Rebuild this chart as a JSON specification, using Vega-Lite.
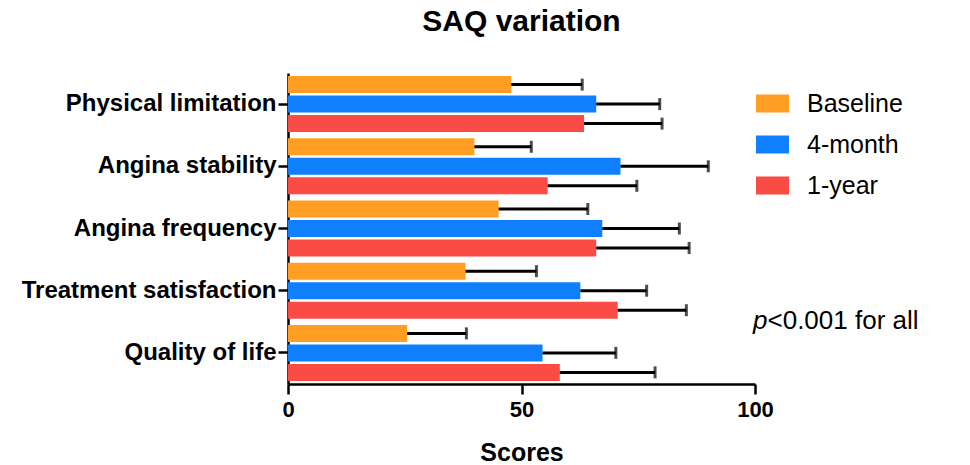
{
  "$schema": "https://vega.github.io/schema/vega-lite/v6.json",
  "autosize": {"type": "none"},
  "width": 467,
  "height": 311,
  "padding": {"left": 288, "top": 73, "right": 215, "bottom": 81},
  "background": "white",
  "config": {
    "font": "Liberation Sans",
    "view": {"stroke": null},
    "axis": {
      "domainColor": "black",
      "domainWidth": 2.5,
      "tickColor": "black",
      "tickWidth": 2.5,
      "tickSize": 10,
      "labelColor": "black",
      "labelFontWeight": "bold",
      "titleColor": "black",
      "grid": false
    }
  },
  "title": {
    "text": "SAQ variation",
    "fontSize": 30,
    "fontWeight": "bold",
    "color": "black",
    "anchor": "middle",
    "frame": "group",
    "offset": 36
  },
  "data": {
    "values": [
      {"measure": "Physical limitation", "time": "Baseline", "mean": 47.8, "upper": 63.0},
      {"measure": "Physical limitation", "time": "4-month", "mean": 66.0, "upper": 79.6},
      {"measure": "Physical limitation", "time": "1-year", "mean": 63.4, "upper": 80.1},
      {"measure": "Angina stability", "time": "Baseline", "mean": 39.9, "upper": 52.1},
      {"measure": "Angina stability", "time": "4-month", "mean": 71.2, "upper": 90.0},
      {"measure": "Angina stability", "time": "1-year", "mean": 55.6, "upper": 74.7},
      {"measure": "Angina frequency", "time": "Baseline", "mean": 45.1, "upper": 64.2},
      {"measure": "Angina frequency", "time": "4-month", "mean": 67.3, "upper": 83.8},
      {"measure": "Angina frequency", "time": "1-year", "mean": 66.0, "upper": 85.9},
      {"measure": "Treatment satisfaction", "time": "Baseline", "mean": 38.0, "upper": 53.2},
      {"measure": "Treatment satisfaction", "time": "4-month", "mean": 62.6, "upper": 76.8},
      {"measure": "Treatment satisfaction", "time": "1-year", "mean": 70.6, "upper": 85.3},
      {"measure": "Quality of life", "time": "Baseline", "mean": 25.5, "upper": 38.2},
      {"measure": "Quality of life", "time": "4-month", "mean": 54.5, "upper": 70.2},
      {"measure": "Quality of life", "time": "1-year", "mean": 58.2, "upper": 78.6}
    ]
  },
  "encoding": {
    "y": {
      "field": "measure",
      "type": "nominal",
      "sort": ["Physical limitation", "Angina stability", "Angina frequency", "Treatment satisfaction", "Quality of life"],
      "scale": {"paddingInner": 0.1, "paddingOuter": 0.05},
      "axis": {"title": null, "labelFontSize": 24, "labelPadding": 2, "labelLimit": 400}
    },
    "yOffset": {
      "field": "time",
      "type": "nominal",
      "sort": ["Baseline", "4-month", "1-year"],
      "scale": {"paddingInner": 0.13}
    }
  },
  "layer": [
    {
      "mark": {"type": "bar"},
      "encoding": {
        "x": {
          "field": "mean",
          "type": "quantitative",
          "scale": {"domain": [0, 100], "nice": false},
          "axis": {
            "values": [0, 50, 100],
            "labelFontSize": 22,
            "labelPadding": 5,
            "labelFlush": false,
            "title": "Scores",
            "titleFontSize": 25,
            "titlePadding": 20
          }
        },
        "color": {
          "field": "time",
          "type": "nominal",
          "sort": ["Baseline", "4-month", "1-year"],
          "scale": {"domain": ["Baseline", "4-month", "1-year"], "range": ["#FF9E22", "#0F7FFE", "#FA4B45"]},
          "legend": {
            "title": null,
            "orient": "none",
            "legendX": 468,
            "legendY": 14,
            "symbolType": "M-1,-0.55H1V0.55H-1Z",
            "symbolSize": 1089,
            "symbolOpacity": 1,
            "symbolStrokeWidth": 0,
            "labelFontSize": 25,
            "labelColor": "black",
            "labelOffset": 18,
            "rowPadding": 11
          }
        }
      }
    },
    {
      "mark": {"type": "rule", "color": "black", "strokeWidth": 3},
      "encoding": {
        "x": {"field": "mean", "type": "quantitative"},
        "x2": {"field": "upper"}
      }
    },
    {
      "mark": {"type": "tick", "color": "black", "thickness": 3, "size": 12},
      "encoding": {
        "x": {"field": "upper", "type": "quantitative"}
      }
    },
    {
      "data": {"values": [{"label": "p"}]},
      "mark": {"type": "text", "align": "left", "baseline": "middle", "fontSize": 26, "fontStyle": "italic", "color": "black", "dx": -2, "dy": 30},
      "encoding": {
        "x": {"datum": 100},
        "y": {"datum": "Treatment satisfaction"},
        "yOffset": null,
        "text": {"field": "label"}
      }
    },
    {
      "data": {"values": [{"label": "<0.001 for all"}]},
      "mark": {"type": "text", "align": "left", "baseline": "middle", "fontSize": 26, "color": "black", "dx": 12.5, "dy": 30},
      "encoding": {
        "x": {"datum": 100},
        "y": {"datum": "Treatment satisfaction"},
        "yOffset": null,
        "text": {"field": "label"}
      }
    }
  ]
}
